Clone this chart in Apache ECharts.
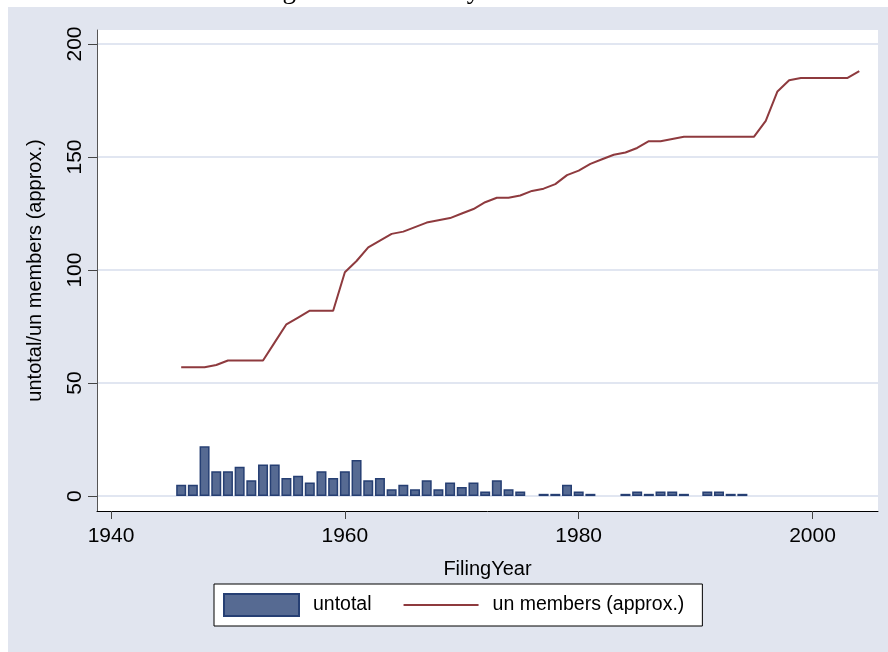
<!DOCTYPE html>
<html>
<head>
<meta charset="utf-8">
<script src="https://cdn.jsdelivr.net/npm/echarts@6/dist/echarts.min.js"></script>
<style>
html,body{margin:0;padding:0;background:#fff;}
#c{width:888px;height:652px;}
</style>
</head>
<body>
<div id="c"></div>
<script>
var titleText = 'Figure 3: UN Treaty-based bodies';
var barYears = [1946,1947,1948,1949,1950,1951,1952,1953,1954,1955,1956,1957,1958,1959,1960,1961,1962,1963,1964,1965,1966,1967,1968,1969,1970,1971,1972,1973,1974,1975,1977,1978,1979,1980,1981,1984,1985,1986,1987,1988,1989,1991,1992,1993,1994];
var untotal = [5,5,22,11,11,13,7,14,14,8,9,6,11,8,11,16,7,8,3,5,3,7,3,6,4,6,2,7,3,2,1,1,5,2,1,1,2,1,2,2,1,2,2,1,1];
var lineYears = [1946,1947,1948,1949,1950,1951,1952,1953,1954,1955,1956,1957,1958,1959,1960,1961,1962,1963,1964,1965,1966,1967,1968,1969,1970,1971,1972,1973,1974,1975,1976,1977,1978,1979,1980,1981,1982,1983,1984,1985,1986,1987,1988,1989,1990,1991,1992,1993,1994,1995,1996,1997,1998,1999,2000,2001,2002,2003,2004];
var unMembers = [57,57,57,58,60,60,60,60,68,76,79,82,82,82,99,104,110,113,116,117,119,121,122,123,125,127,130,132,132,133,135,136,138,142,144,147,149,151,152,154,157,157,158,159,159,159,159,159,159,159,166,179,184,185,185,185,185,185,188];
var xTicks = [1940,1960,1980,2000];
var yTicks = [0,50,100,150,200];
var seriesNames = ['untotal','un members (approx.)'];
var xTitle = 'FilingYear';
var yTitle = 'untotal/un members (approx.)';

var font = 'Liberation Sans, Arial, sans-serif';
var chart = echarts.init(document.getElementById('c'), null, {renderer:'canvas'});
var barData = barYears.map(function(y,i){return [y, untotal[i]];});
var lineData = lineYears.map(function(y,i){return [y, unMembers[i]];});
function plain(v){return String(v);}

chart.setOption({
  backgroundColor:'#ffffff',
  animation:false,
  graphic:[{type:'rect', z:-10, silent:true, shape:{x:8,y:7,width:880,height:645}, style:{fill:'#e1e5ef'}}],
  title:{text:titleText, left:'center', top:-28, textStyle:{fontFamily:'Liberation Serif, Times New Roman, serif', fontWeight:'normal', fontSize:27, color:'#000'}},
  grid:{left:97, top:30, right:10, bottom:141, show:true, backgroundColor:'#ffffff', borderWidth:0},
  legend:{
    left:214, top:584, orient:'horizontal',
    backgroundColor:'#ffffff', borderColor:'#000', borderWidth:1, borderRadius:0,
    padding:[9,18,9,9], itemGap:31, itemWidth:75, itemHeight:22,
    textStyle:{fontFamily:font, fontSize:19.5, color:'#000', padding:[0,0,0,9]},
    data:[
      {name:seriesNames[0], icon:'rect'},
      {name:seriesNames[1], itemStyle:{color:'rgba(0,0,0,0)', borderColor:'rgba(0,0,0,0)', borderWidth:0}}
    ]
  },
  xAxis:{
    type:'value', min:1938.8, max:2005.6,
    name:xTitle, nameLocation:'middle', nameGap:48,
    nameTextStyle:{fontFamily:font, fontSize:20, color:'#000'},
    axisLine:{show:true, onZero:false, lineStyle:{color:'#000', width:1}},
    axisTick:{show:true, length:8, customValues:xTicks, lineStyle:{color:'#444'}},
    axisLabel:{customValues:xTicks, formatter:plain, margin:15, fontFamily:font, fontSize:21, color:'#000'},
    splitLine:{show:false}
  },
  yAxis:{
    type:'value', min:-6.6, max:206.2,
    name:yTitle, nameLocation:'middle', nameGap:52, nameRotate:90,
    nameTextStyle:{fontFamily:font, fontSize:20, color:'#000'},
    axisLine:{show:true, lineStyle:{color:'#555', width:1}},
    axisTick:{show:true, length:9, customValues:yTicks, lineStyle:{color:'#444'}},
    axisLabel:{customValues:yTicks, formatter:plain, rotate:90, margin:11, fontFamily:font, fontSize:21, color:'#000'},
    splitLine:{show:true, lineStyle:{color:'#e1e6f1', width:2}}
  },
  series:[
    {name:seriesNames[0], type:'bar', data:barData, barWidth:10,
     itemStyle:{color:'#566a92', borderColor:'#263f73', borderWidth:1.5}},
    {name:seriesNames[1], type:'line', data:lineData, symbol:'none', showSymbol:false,
     lineStyle:{color:'#8e3a3e', width:2}, itemStyle:{color:'#8e3a3e'}}
  ]
});
</script>
</body>
</html>
